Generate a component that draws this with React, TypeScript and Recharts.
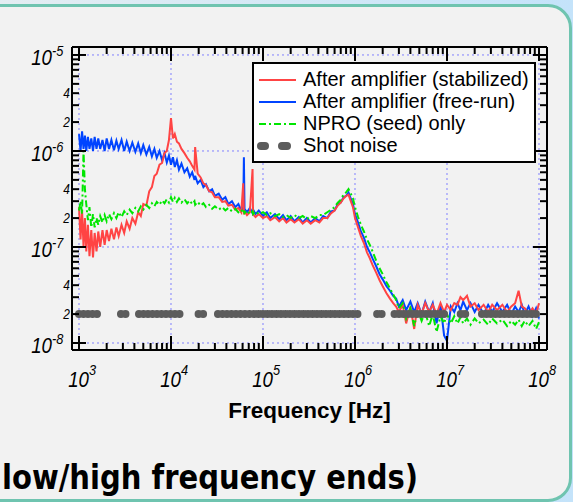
import React from 'react'
import { LineChart, Line, XAxis, YAxis, ReferenceLine } from 'recharts'

// frequency grid shared by the measured traces [Hz]
const freq = [
  1000, 1040, 1080, 1120, 1160, 1200, 1250, 1300, 1360, 1420, 1480, 1550, 1620, 1700, 1800, 1900,
  2000, 2120, 2250, 2400, 2550, 2700, 2900, 3100, 3300, 3550, 3800, 4100, 4400, 4700, 5000, 5400,
  5800, 6200, 6600, 7000, 7500, 8000, 8500, 9000, 9500,
  10000, 10500, 11000, 11600, 12200, 13000, 14000, 15000, 16000, 17000, 18000, 18300, 19500, 21000,
  22500, 24000, 26000, 28000, 30000, 33000, 36000, 39000, 42000, 46000, 50000, 54000, 58000, 61000,
  62000, 63000, 67000, 72000, 77000, 78000, 83000, 90000,
  100000, 110000, 120000, 135000, 150000, 165000, 180000, 200000, 220000, 245000, 270000, 300000,
  330000, 370000, 410000, 450000, 500000, 550000, 600000, 650000, 700000, 750000, 800000, 850000,
  900000, 950000,
  1000000, 1080000, 1160000, 1250000, 1350000, 1450000, 1550000, 1700000, 1850000, 2000000, 2200000,
  2400000, 2600000, 2800000, 3000000, 3300000, 3600000, 4000000, 4400000, 4800000, 5300000, 5800000,
  6400000, 7000000, 7700000, 8500000, 9300000,
  10000000, 11000000, 12000000, 13000000, 14000000, 15000000, 16500000, 18000000, 20000000, 22000000,
  25000000, 28000000, 31000000, 35000000, 40000000, 45000000, 50000000, 55000000, 60000000, 65000000,
  70000000, 77000000, 85000000, 93000000, 100000000,
]

// After amplifier (stabilized)
const stabilized = [
  2.6e-7, 1.2e-7, 2.4e-7, 1.0e-7, 2.0e-7, 9.0e-8, 1.7e-7, 8.0e-8, 1.5e-7, 7.8e-8, 1.4e-7, 9.0e-8, 1.45e-7, 1.0e-7, 1.5e-7, 1.05e-7,
  1.5e-7, 1.15e-7, 1.55e-7, 1.2e-7, 1.6e-7, 1.3e-7, 1.7e-7, 1.4e-7, 1.85e-7, 1.55e-7, 2.0e-7, 1.75e-7, 2.3e-7, 2.1e-7, 2.8e-7, 2.7e-7,
  3.8e-7, 4.2e-7, 5.5e-7, 5.8e-7, 7.2e-7, 7.5e-7, 9.5e-7, 1.0e-6, 1.3e-6,
  2.2e-6, 1.35e-6, 1.5e-6, 1.25e-6, 1.2e-6, 1.05e-6, 9.5e-7, 8.5e-7, 7.8e-7, 7.0e-7, 6.4e-7, 1.1e-6, 5.8e-7, 5.3e-7,
  4.6e-7, 4.4e-7, 3.8e-7, 3.7e-7, 3.3e-7, 3.3e-7, 2.95e-7, 3.0e-7, 2.7e-7, 2.75e-7, 2.45e-7, 2.55e-7, 2.3e-7, 4.6e-7,
  2.3e-7, 2.35e-7, 2.15e-7, 2.3e-7, 6.5e-7, 2.2e-7, 2.05e-7, 2.2e-7,
  2.0e-7, 2.1e-7, 1.9e-7, 2.05e-7, 1.85e-7, 2.0e-7, 1.8e-7, 1.95e-7, 1.8e-7, 1.95e-7, 1.75e-7, 1.9e-7,
  1.75e-7, 1.9e-7, 1.8e-7, 2.0e-7, 2.0e-7, 2.25e-7, 2.4e-7, 2.7e-7, 2.9e-7, 3.2e-7, 3.4e-7, 3.5e-7,
  3.0e-7, 2.6e-7,
  2.0e-7, 1.6e-7, 1.3e-7, 1.1e-7, 8.8e-8, 7.6e-8, 6.5e-8, 5.4e-8, 4.5e-8, 3.9e-8, 3.3e-8,
  2.9e-8, 2.6e-8, 2.4e-8, 2.1e-8, 2.5e-8, 1.6e-8, 2.4e-8, 1.4e-8, 2.5e-8, 2.0e-8, 2.6e-8,
  2.1e-8, 2.5e-8, 2.0e-8, 2.6e-8, 2.1e-8,
  2.5e-8, 2.2e-8, 2.6e-8, 2.5e-8, 3.0e-8, 2.8e-8, 3.1e-8, 2.4e-8, 2.6e-8, 2.2e-8,
  2.5e-8, 2.1e-8, 2.5e-8, 2.2e-8, 2.5e-8, 2.1e-8, 2.4e-8, 2.6e-8, 3.5e-8, 2.4e-8,
  2.3e-8, 2.0e-8, 2.3e-8, 2.0e-8, 2.6e-8,
]

// After amplifier (free-run)
const freeRun = [
  1.5e-6, 1.0e-6, 1.6e-6, 1.05e-6, 1.45e-6, 1.0e-6, 1.4e-6, 1.05e-6, 1.35e-6, 1.0e-6, 1.4e-6, 1.05e-6, 1.35e-6, 1.05e-6, 1.3e-6, 1.0e-6,
  1.35e-6, 1.05e-6, 1.3e-6, 1.02e-6, 1.28e-6, 1.05e-6, 1.3e-6, 1.0e-6, 1.25e-6, 1.0e-6, 1.22e-6, 9.8e-7, 1.2e-6, 9.5e-7, 1.15e-6, 9.2e-7,
  1.1e-6, 8.8e-7, 1.05e-6, 8.5e-7, 1.0e-6, 8.0e-7, 9.5e-7, 7.6e-7, 9.0e-7,
  7.2e-7, 8.6e-7, 6.8e-7, 8.0e-7, 6.4e-7, 7.4e-7, 6.0e-7, 6.6e-7, 5.4e-7, 6.0e-7, 5.0e-7, 5.5e-7, 4.6e-7, 5.0e-7,
  4.2e-7, 4.5e-7, 3.8e-7, 4.0e-7, 3.4e-7, 3.6e-7, 3.1e-7, 3.3e-7, 2.8e-7, 3.0e-7, 2.6e-7, 2.8e-7, 2.4e-7, 2.6e-7,
  8.6e-7, 2.5e-7, 2.3e-7, 2.55e-7, 2.25e-7, 2.45e-7, 2.2e-7, 2.4e-7,
  2.1e-7, 2.3e-7, 2.0e-7, 2.2e-7, 1.95e-7, 2.15e-7, 1.9e-7, 2.1e-7, 1.85e-7, 2.05e-7, 1.8e-7, 2.0e-7,
  1.8e-7, 2.0e-7, 1.85e-7, 2.1e-7, 2.0e-7, 2.35e-7, 2.4e-7, 2.8e-7, 2.9e-7, 3.3e-7, 3.4e-7, 3.7e-7,
  3.2e-7, 2.8e-7,
  2.2e-7, 1.8e-7, 1.45e-7, 1.25e-7, 1.0e-7, 8.8e-8, 7.6e-8, 6.3e-8, 5.2e-8, 4.6e-8, 3.9e-8,
  3.5e-8, 3.1e-8, 2.9e-8, 2.4e-8, 2.8e-8, 2.2e-8, 2.7e-8, 2.1e-8, 2.6e-8, 2.0e-8, 2.7e-8,
  2.1e-8, 2.6e-8, 1.6e-8, 2.5e-8, 1.2e-8,
  1.05e-8, 2.4e-8, 2.1e-8, 2.6e-8, 2.2e-8, 2.7e-8, 2.2e-8, 2.6e-8, 2.1e-8, 2.5e-8,
  2.0e-8, 2.5e-8, 2.1e-8, 2.6e-8, 2.1e-8, 2.5e-8, 2.0e-8, 2.4e-8, 2.1e-8, 2.5e-8,
  2.0e-8, 2.4e-8, 1.9e-8, 2.3e-8, 1.8e-8,
]

// NPRO (seed) only
const seedOnly = [
  2.4e-7, 3.0e-7, 2.2e-7, 1.0e-6, 4.0e-7, 2.8e-7, 1.9e-7, 2.6e-7, 1.6e-7, 2.2e-7, 1.6e-7, 2.0e-7, 1.7e-7, 2.1e-7, 1.8e-7, 2.15e-7,
  1.85e-7, 2.2e-7, 1.95e-7, 2.25e-7, 2.0e-7, 2.3e-7, 2.05e-7, 2.35e-7, 2.15e-7, 2.45e-7, 2.25e-7, 2.55e-7, 2.35e-7, 2.65e-7, 2.45e-7, 2.75e-7,
  2.55e-7, 2.85e-7, 2.65e-7, 2.95e-7, 2.75e-7, 3.05e-7, 2.85e-7, 3.15e-7, 2.9e-7,
  3.3e-7, 2.95e-7, 3.25e-7, 2.95e-7, 3.2e-7, 2.9e-7, 3.15e-7, 2.85e-7, 3.05e-7, 2.8e-7, 3.0e-7, 2.75e-7, 2.95e-7, 2.7e-7,
  2.85e-7, 2.6e-7, 2.75e-7, 2.5e-7, 2.65e-7, 2.45e-7, 2.6e-7, 2.4e-7, 2.55e-7, 2.35e-7, 2.5e-7, 2.3e-7, 2.45e-7, 2.25e-7,
  2.4e-7, 2.25e-7, 2.4e-7, 2.2e-7, 2.35e-7, 2.2e-7, 2.35e-7, 2.2e-7,
  2.3e-7, 2.15e-7, 2.25e-7, 2.1e-7, 2.2e-7, 2.05e-7, 2.15e-7, 2.0e-7, 2.15e-7, 2.0e-7, 2.1e-7, 1.95e-7,
  2.1e-7, 2.0e-7, 2.15e-7, 2.15e-7, 2.3e-7, 2.45e-7, 2.6e-7, 2.9e-7, 3.1e-7, 3.5e-7, 3.7e-7, 4.0e-7,
  3.6e-7, 3.2e-7,
  2.6e-7, 2.05e-7, 1.7e-7, 1.45e-7, 1.2e-7, 1.05e-7, 9.0e-8, 7.2e-8, 6.0e-8, 5.2e-8, 4.3e-8,
  3.7e-8, 3.2e-8, 2.8e-8, 2.3e-8, 2.6e-8, 1.8e-8, 2.3e-8, 1.5e-8, 2.2e-8, 1.7e-8, 2.1e-8,
  1.5e-8, 2.0e-8, 1.3e-8, 1.9e-8, 1.6e-8,
  2.0e-8, 1.6e-8, 1.9e-8, 1.6e-8, 1.85e-8, 1.6e-8, 1.8e-8, 1.55e-8, 1.8e-8, 1.6e-8,
  1.75e-8, 1.55e-8, 1.8e-8, 1.6e-8, 1.75e-8, 1.5e-8, 1.7e-8, 1.55e-8, 1.75e-8, 1.5e-8,
  1.7e-8, 1.5e-8, 1.7e-8, 1.4e-8, 1.65e-8,
]

// shot noise level, drawn as a dotted trace in runs
const shotLevel = 2e-8
const shotStart = [1000, 2860, 4490, 19950, 32400, 1740000, 2690000, 14100000, 24000000]
const shotEnd = [1740, 3260, 13500, 22700, 1070000, 1980000, 10200000, 16000000, 100000000]

const xDecades = [3, 4, 5, 6, 7, 8]
const yDecades = [-8, -7, -6, -5]
const minorSteps = [2, 3, 4, 5, 6, 7, 8, 9]
const yMinorLabels = [2, 4]

const legendItems = [
  { name: 'After amplifier (stabilized)', color: '#ff4444', dash: undefined },
  { name: 'After amplifier (free-run)', color: '#0044ff', dash: undefined },
  { name: 'NPRO (seed) only', color: '#00e600', dash: '7 3 2 3' },
  { name: 'Shot noise', color: '#5c5c5c', dash: 'dots' },
]

const buildTicks = (decades: number[]) => {
  const out: number[] = []
  decades.forEach((d, i) => {
    out.push(Math.pow(10, d))
    if (i < decades.length - 1) minorSteps.forEach((m) => out.push(m * Math.pow(10, d)))
  })
  return out
}
const xTicks = buildTicks(xDecades)
const yTicks = buildTicks(yDecades)
const xDomain = [Math.pow(10, 3 - 0.076), Math.pow(10, 8 + 0.087)]
const yDomain = [Math.pow(10, -8 - 0.073), Math.pow(10, -5 + 0.083)]

const toPoints = (vals: number[]) => freq.map((f, i) => ({ f, v: vals[i] }))
const shotData = shotStart.flatMap((s, i) => {
  const pts: { f: number; v: number | null }[] = [
    { f: s, v: shotLevel },
    { f: shotEnd[i], v: shotLevel },
  ]
  if (i < shotStart.length - 1) pts.push({ f: Math.sqrt(shotEnd[i] * shotStart[i + 1]), v: null })
  return pts
})

const splitTick = (v: number) => {
  const e = Math.floor(Math.log10(v) + 1e-6)
  const m = Math.round(v / Math.pow(10, e))
  return { e, m }
}

// narrow italic tick text, like the plotting program's Helvetica
const NarrowText = ({ x, y, size, anchor, children }: any) => (
  <text
    transform={`translate(${x},${y}) scale(0.85,1)`}
    textAnchor={anchor}
    fontSize={size}
    fontFamily="Liberation Sans, Arial, sans-serif"
    fontStyle="italic"
    fill="#000"
  >
    {children}
  </text>
)

const BottomTick = (props: any) => {
  const { x, y, payload } = props
  const { e, m } = splitTick(payload.value)
  const len = m === 1 ? 14 : 7
  return (
    <g>
      <line x1={x} x2={x} y1={y} y2={y - len} stroke="#000" strokeWidth={2} />
      {m === 1 && (
        <>
          <NarrowText x={x + 10} y={y + 37} size={22} anchor="end">10</NarrowText>
          <NarrowText x={x + 10} y={y + 25} size={15} anchor="start">{e}</NarrowText>
        </>
      )}
    </g>
  )
}

const TopTick = (props: any) => {
  const { x, y, payload } = props
  const { m } = splitTick(payload.value)
  const len = m === 1 ? 14 : 7
  return <line x1={x} x2={x} y1={y} y2={y + len} stroke="#000" strokeWidth={2} />
}

const LeftTick = (props: any) => {
  const { x, y, payload } = props
  const { e, m } = splitTick(payload.value)
  const len = m === 1 ? 14 : 7
  return (
    <g>
      <line x1={x} x2={x + len} y1={y} y2={y} stroke="#000" strokeWidth={2} />
      {m === 1 && (
        <>
          <NarrowText x={x - 20} y={y + 10} size={22} anchor="end">10</NarrowText>
          <NarrowText x={x - 20} y={y + 1} size={15} anchor="start">{e}</NarrowText>
        </>
      )}
      {yMinorLabels.includes(m) && (
        <NarrowText x={x - 2} y={y + 5} size={14} anchor="end">{m}</NarrowText>
      )}
    </g>
  )
}

const RightTick = (props: any) => {
  const { x, y, payload } = props
  const { m } = splitTick(payload.value)
  const len = m === 1 ? 14 : 7
  return <line x1={x} x2={x - len} y1={y} y2={y} stroke="#000" strokeWidth={2} />
}

function LegendBox() {
  return (
    <svg width={284} height={101} style={{ position: 'absolute', left: 252, top: 62 }}>
      <rect x={1} y={1} width={282} height={99} fill="#fff" stroke="#000" strokeWidth={2} />
      {legendItems.map((item, i) => {
        const base = 24 + i * 22
        const mid = base - 6
        return (
          <g key={item.name}>
            {item.dash === 'dots' ? (
              <>
                <line x1={9} x2={13} y1={mid} y2={mid} stroke={item.color} strokeWidth={8} strokeLinecap="round" />
                <line x1={30} x2={35} y1={mid} y2={mid} stroke={item.color} strokeWidth={8} strokeLinecap="round" />
              </>
            ) : (
              <line x1={7} x2={44} y1={mid} y2={mid} stroke={item.color} strokeWidth={2} strokeDasharray={item.dash} />
            )}
            <text x={51} y={base} fontSize={20} fontFamily="Liberation Sans, Arial, sans-serif" fill="#000">
              {item.name}
            </text>
          </g>
        )
      })}
    </svg>
  )
}

export default function App() {
  const axisLine = { stroke: '#000', strokeWidth: 2 }
  const gridStyle = { stroke: '#8080ff', strokeDasharray: '2 3', strokeWidth: 1 }
  return (
    <div
      style={{
        position: 'absolute',
        left: 0,
        top: 0,
        width: 573,
        height: 502,
        overflow: 'hidden',
        background: 'linear-gradient(to right, #e4edf2, #c4e3fa)',
      }}
    >
      <div
        style={{
          position: 'absolute',
          left: -40,
          top: 4,
          width: 612,
          height: 498,
          boxSizing: 'border-box',
          border: '3px solid #6fc4b0',
          borderRadius: 24,
          background: '#f2f2f2',
        }}
      />
      <div style={{ position: 'absolute', left: 0, top: 0 }}>
        <LineChart width={573} height={440} margin={{ top: 0, right: 0, bottom: 0, left: 0 }}>
          <XAxis
            xAxisId="bottom"
            dataKey="f"
            type="number"
            scale="log"
            domain={xDomain}
            allowDataOverflow
            ticks={xTicks}
            interval={0}
            tickSize={0}
            tickMargin={0}
            height={90}
            axisLine={axisLine}
            tickLine={false}
            tick={BottomTick}
            label={{
              value: 'Frequency [Hz]',
              position: 'insideBottom',
              offset: 22,
              fill: '#000',
              fontSize: 22.5,
              fontWeight: 'bold',
              fontFamily: 'Liberation Sans, Arial, sans-serif',
            }}
          />
          <XAxis
            xAxisId="top"
            orientation="top"
            dataKey="f"
            type="number"
            scale="log"
            domain={xDomain}
            allowDataOverflow
            ticks={xTicks}
            interval={0}
            tickSize={0}
            tickMargin={0}
            height={47}
            axisLine={axisLine}
            tickLine={false}
            tick={TopTick}
          />
          <YAxis
            yAxisId="left"
            type="number"
            scale="log"
            domain={yDomain}
            allowDataOverflow
            ticks={yTicks}
            interval={0}
            tickSize={0}
            tickMargin={0}
            width={72}
            axisLine={axisLine}
            tickLine={false}
            tick={LeftTick}
          />
          <YAxis
            yAxisId="right"
            orientation="right"
            type="number"
            scale="log"
            domain={yDomain}
            allowDataOverflow
            ticks={yTicks}
            interval={0}
            tickSize={0}
            tickMargin={0}
            width={26}
            axisLine={axisLine}
            tickLine={false}
            tick={RightTick}
          />
          {xDecades.map((d) => (
            <ReferenceLine key={'gx' + d} x={Math.pow(10, d)} xAxisId="bottom" yAxisId="left" {...gridStyle} />
          ))}
          {yDecades.map((d) => (
            <ReferenceLine key={'gy' + d} y={Math.pow(10, d)} xAxisId="bottom" yAxisId="left" {...gridStyle} />
          ))}
          <Line
            data={toPoints(freeRun)}
            dataKey="v"
            xAxisId="bottom"
            yAxisId="left"
            stroke={legendItems[1].color}
            strokeWidth={2}
            dot={false}
            isAnimationActive={false}
          />
          <Line
            data={toPoints(stabilized)}
            dataKey="v"
            xAxisId="bottom"
            yAxisId="left"
            stroke={legendItems[0].color}
            strokeWidth={2}
            dot={false}
            isAnimationActive={false}
          />
          <Line
            data={toPoints(seedOnly)}
            dataKey="v"
            xAxisId="bottom"
            yAxisId="left"
            stroke={legendItems[2].color}
            strokeWidth={2}
            strokeDasharray="7 3 2 3"
            dot={false}
            isAnimationActive={false}
          />
          <Line
            data={shotData}
            dataKey="v"
            xAxisId="bottom"
            yAxisId="left"
            stroke={legendItems[3].color}
            strokeWidth={8}
            strokeLinecap="round"
            strokeDasharray="0 4.5"
            dot={false}
            isAnimationActive={false}
          />
        </LineChart>
      </div>
      <LegendBox />
      <div
        style={{
          position: 'absolute',
          left: 2,
          top: 461,
          fontFamily: 'DejaVu Sans, sans-serif',
          fontWeight: 'bold',
          fontSize: 33,
          lineHeight: 1,
          whiteSpace: 'nowrap',
          color: '#000',
          transform: 'scaleX(0.88)',
          transformOrigin: 'left top',
        }}
      >
        low/high frequency ends)
      </div>
    </div>
  )
}
